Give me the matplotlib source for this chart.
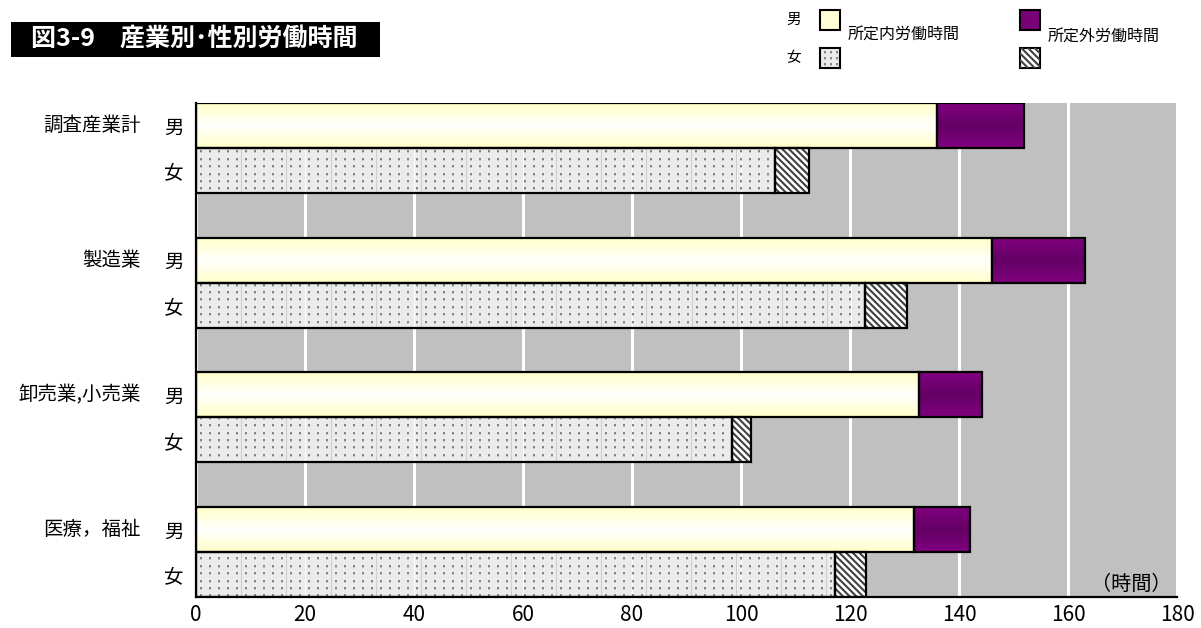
import numpy as np
import matplotlib
matplotlib.use("Agg")
import matplotlib.pyplot as plt
from matplotlib.patches import Rectangle
from matplotlib.colors import LinearSegmentedColormap

plt.rcParams['font.family'] = ['Noto Sans CJK JP', 'DejaVu Sans']
plt.rcParams['hatch.linewidth'] = 1.5

# 産業別・性別の労働時間（時間）
industries = ["調査産業計", "製造業", "卸売業,小売業", "医療，福祉"]
male_scheduled = [135.9, 146.0, 132.7, 131.8]
male_overtime = [16.1, 17.2, 11.5, 10.2]
female_scheduled = [106.2, 122.8, 98.3, 117.2]
female_overtime = [6.3, 7.6, 3.5, 5.7]
sex_labels = ["男", "女"]
x_ticks = [0, 20, 40, 60, 80, 100, 120, 140, 160, 180]

W, H = 1201, 628
AX_L, AX_R, AX_T, AX_B = 196, 1177, 103, 597
fig = plt.figure(figsize=(W / 100, H / 100), dpi=100)
ax = fig.add_axes([AX_L / W, 1 - AX_B / H, (AX_R - AX_L) / W, (AX_B - AX_T) / H])
ax.set_facecolor("#C0C0C0")

n = len(industries)
male_pos = np.arange(n) * 3
female_pos = male_pos + 1
bar_h = 1.0
edge_kw = dict(edgecolor="black", linewidth=1.6)

STRIPE_HATCH = "\\\\\\\\\\"

yellow_cmap = LinearSegmentedColormap.from_list("yl", ["#FFFFC8", "#FFFFFF", "#FFFFC8"])
purple_cmap = LinearSegmentedColormap.from_list("pp", ["#800080", "#640064", "#800080"])
grad = np.linspace(0, 1, 64).reshape(-1, 1)


def dot_texture(w, h, dx=9, dy=7.4, panel=45, grid_cols=()):
    """Light grey fill with a regular grid of small grey dots."""
    img = np.full((h, w, 3), 0.925)
    for c in range(panel, w, panel):
        img[:, c] = 0.80
    for c in grid_cols:
        if 0 <= c < w:
            img[:, c] = 1.0
    rows = np.arange(3, h, dy).round().astype(int)
    cols = np.arange(4, w, dx)
    for r in rows:
        for c in cols:
            img[r:r + 2, c:c + 2] = 0.52
            if r + 2 < h:
                img[r + 2, c:c + 2] = 0.78
    return img


def gradient_fill(bars, cmap):
    for b in bars:
        x0, y0 = b.get_x(), b.get_y()
        w, h = b.get_width(), b.get_height()
        ax.imshow(grad, cmap=cmap, aspect="auto", extent=(x0, x0 + w, y0 + h, y0),
                  zorder=2.5, interpolation="bicubic")


ax.set_xlim(0, 180)
ylim = (female_pos[-1] + bar_h / 2, male_pos[0] - bar_h / 2)
ax.set_ylim(*ylim)

# 男: 所定内（グラデーション）+ 所定外（紫）
mb1 = ax.barh(male_pos, male_scheduled, height=bar_h, facecolor="none", zorder=3, **edge_kw)
mb2 = ax.barh(male_pos, male_overtime, left=male_scheduled, height=bar_h,
              facecolor="none", zorder=3, **edge_kw)
gradient_fill(mb1, yellow_cmap)
gradient_fill(mb2, purple_cmap)

# 女: 所定内（点模様）+ 所定外（斜線）
px_w, px_h = AX_R - AX_L, AX_B - AX_T
grid_px = [int(round(v / 180 * px_w)) for v in x_ticks[1:-1]]
texture = dot_texture(px_w, px_h, grid_cols=grid_px)
fb1 = ax.barh(female_pos, female_scheduled, height=bar_h, facecolor="none", zorder=3, **edge_kw)
for b in fb1:
    im = ax.imshow(texture, extent=(0, 180, ylim[0], ylim[1]), aspect="auto",
                   interpolation="nearest", zorder=2.5)
    im.set_clip_path(b)
ax.barh(female_pos, female_overtime, left=female_scheduled, height=bar_h, color="white", zorder=2)
ax.barh(female_pos, female_overtime, left=female_scheduled, height=bar_h, facecolor="none",
        edgecolor="#404040", hatch=STRIPE_HATCH, linewidth=0, zorder=2.2)
ax.barh(female_pos, female_overtime, left=female_scheduled, height=bar_h,
        facecolor="none", zorder=3, **edge_kw)

ax.set_xlim(0, 180)
ax.set_ylim(*ylim)
ax.set_xticks(x_ticks)
ax.set_xticklabels([str(v) for v in x_ticks], fontsize=15)
ax.xaxis.grid(True, color="white", linewidth=2.2, zorder=1)
ax.set_axisbelow(True)
ax.tick_params(axis="x", length=0, pad=5)

yt = np.concatenate([male_pos, female_pos])
ax.set_yticks(yt)
ax.set_yticklabels([sex_labels[0]] * n + [sex_labels[1]] * n, fontsize=14)
ax.tick_params(axis="y", length=0, pad=9)

for name, y in zip(industries, male_pos):
    ax.annotate(name, xy=(0, y), xycoords=("axes fraction", "data"), xytext=(-55, 0),
                textcoords="offset pixels", ha="right", va="center", fontsize=14)

for side in ("top", "right"):
    ax.spines[side].set_visible(False)
for side in ("left", "bottom"):
    ax.spines[side].set_color("black")
    ax.spines[side].set_linewidth(1.6)

ax.text(0.9945, 0.004, "（時間）", transform=ax.transAxes, ha="right", va="bottom", fontsize=14.5)

# タイトル
fig.patches.append(Rectangle((11 / W, 1 - 57 / H), (380 - 11) / W, 35 / H,
                             transform=fig.transFigure, facecolor="black", edgecolor="none"))
fig.text(31 / W, 1 - 40 / H, "図3-9　産業別･性別労働時間", color="white", fontsize=18,
         fontweight="bold", ha="left", va="center")

# 凡例
def legend_box(x, y, **kw):
    fig.patches.append(Rectangle((x / W, 1 - (y + 20) / H), 20 / W, 20 / H,
                                 transform=fig.transFigure, linewidth=1.5, **kw))

lax = fig.add_axes([820 / W, 1 - 68 / H, 20 / W, 20 / H])
lax.imshow(dot_texture(20, 20, dx=6, dy=6, panel=100), aspect="auto", interpolation="nearest")
lax.set_xticks([])
lax.set_yticks([])
for s in lax.spines.values():
    s.set_linewidth(1.5)
legend_box(820, 10, facecolor="#FFFFD8", edgecolor="black")
legend_box(1020, 10, facecolor="#780078", edgecolor="black")
legend_box(1020, 48, facecolor="white", edgecolor="black")
fig.patches.append(Rectangle((1020 / W, 1 - 68 / H), 20 / W, 20 / H, transform=fig.transFigure,
                             facecolor="none", edgecolor="#404040", hatch=STRIPE_HATCH, linewidth=0))
fig.text(786 / W, 1 - 20 / H, "男", fontsize=10.5, ha="left", va="center")
fig.text(786 / W, 1 - 58 / H, "女", fontsize=10.5, ha="left", va="center")
fig.text(848 / W, 1 - 35 / H, "所定内労働時間", fontsize=11.5, ha="left", va="center")
fig.text(1048 / W, 1 - 37 / H, "所定外労働時間", fontsize=11.5, ha="left", va="center")

fig.savefig("out.png", dpi=100, facecolor="white")
